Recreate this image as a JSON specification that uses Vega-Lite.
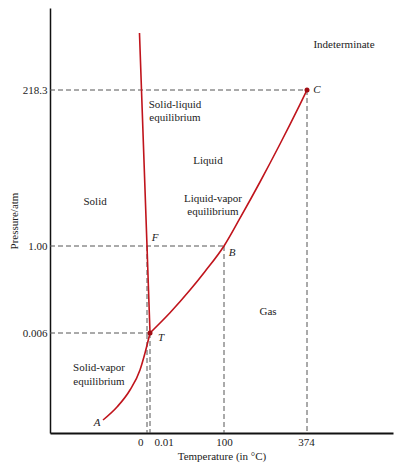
{
  "$schema": "https://vega.github.io/schema/vega-lite/v6.json",
  "width": 343,
  "height": 425,
  "autosize": {"type": "none"},
  "padding": {"left": 50, "top": 8, "right": 2, "bottom": 34},
  "background": "white",
  "config": {
    "view": {"stroke": null},
    "font": "Liberation Serif",
    "text": {"font": "Liberation Serif", "fontSize": 11, "color": "#222"}
  },
  "datasets": {
    "curves": [
      {"curve": "sublimation", "i": 0, "t": -18.14, "p": 0.00078},
      {"curve": "sublimation", "i": 1, "t": -12.37, "p": 0.00156},
      {"curve": "sublimation", "i": 2, "t": -7.01, "p": 0.00258},
      {"curve": "sublimation", "i": 3, "t": -2.89, "p": 0.00378},
      {"curve": "sublimation", "i": 4, "t": -0.82, "p": 0.0048},
      {"curve": "sublimation", "i": 5, "t": 0.01, "p": 0.006},
      {"curve": "vaporization", "i": 0, "t": 0.01, "p": 0.006},
      {"curve": "vaporization", "i": 1, "t": 27.03, "p": 0.2368},
      {"curve": "vaporization", "i": 2, "t": 54.06, "p": 0.4961},
      {"curve": "vaporization", "i": 3, "t": 74.33, "p": 0.7087},
      {"curve": "vaporization", "i": 4, "t": 100, "p": 1},
      {"curve": "vaporization", "i": 5, "t": 152.8, "p": 39.72},
      {"curve": "vaporization", "i": 6, "t": 218.8, "p": 90.15},
      {"curve": "vaporization", "i": 7, "t": 284.9, "p": 143.08},
      {"curve": "vaporization", "i": 8, "t": 350.9, "p": 198.38},
      {"curve": "vaporization", "i": 9, "t": 374, "p": 218.3}
    ],
    "fusion": [
      {"i": 0, "t": -3.1, "p": 275.1},
      {"i": 1, "t": 0, "p": 1},
      {"i": 2, "t": 0.01, "p": 0.006}
    ],
    "guides": [
      {"t": -40, "t2": 374, "p": 218.3, "p2": 218.3},
      {"t": -40, "t2": 100, "p": 1, "p2": 1},
      {"t": -40, "t2": 0.01, "p": 0.006, "p2": 0.006},
      {"t": 0, "t2": 0, "p": 1, "p2": 0},
      {"t": 0.01, "t2": 0.01, "p": 0.006, "p2": 0},
      {"t": 100, "t2": 100, "p": 1, "p2": 0},
      {"t": 374, "t2": 374, "p": 218.3, "p2": 0}
    ],
    "dots": [
      {"t": 374, "p": 218.3},
      {"t": 0.01, "p": 0.006}
    ],
    "regions": [
      {"label": "Indeterminate", "t": 419.6, "p": 263.1},
      {"label": "Solid-liquid", "t": 33.8, "p": 197.4},
      {"label": "equilibrium", "t": 33.8, "p": 179.3},
      {"label": "Liquid", "t": 78.4, "p": 119.4},
      {"label": "Solid", "t": -21.4, "p": 62.3},
      {"label": "Liquid-vapor", "t": 85.1, "p": 66.5},
      {"label": "equilibrium", "t": 85.1, "p": 48.4},
      {"label": "Gas", "t": 245.3, "p": 0.246},
      {"label": "Solid-vapor", "t": -19.8, "p": 0.0039},
      {"label": "equilibrium", "t": -19.8, "p": 0.00306}
    ],
    "points": [
      {"label": "C", "t": 386.3, "p": 218.3},
      {"label": "F", "t": 6.77, "p": 12.1},
      {"label": "B", "t": 126.4, "p": 0.92},
      {"label": "T", "t": 14.87, "p": 0.0057},
      {"label": "A", "t": -20.6, "p": 0.0006}
    ]
  },
  "encoding": {
    "x": {
      "field": "t",
      "type": "quantitative",
      "scale": {"type": "linear", "domain": [-40, 0, 0.01, 100, 374, 480], "range": [0, 97, 100, 174, 257, 343], "zero": false, "nice": false},
      "axis": {
        "title": "Temperature (in °C)",
        "values": [0, 0.01, 100, 374],
        "labelExpr": "datum.value == 0 ? '0' : datum.value == 0.01 ? '0.01' : datum.value == 100 ? '100' : '374'",
        "ticks": false,
        "grid": false,
        "domainColor": "#111",
        "domainWidth": 2,
        "labelFont": "Liberation Serif",
        "labelFontSize": 11,
        "labelColor": "#222",
        "labelPadding": 3,
        "labelAlign": {"condition": [{"test": "datum.value == 0", "value": "right"}, {"test": "datum.value == 0.01", "value": "left"}], "value": "center"},
        "labelOffset": {"condition": [{"test": "datum.value == 0", "value": -4}, {"test": "datum.value == 0.01", "value": 4}, {"test": "datum.value == 374", "value": -1}], "value": 0},
        "titleFont": "Liberation Serif",
        "titleFontSize": 11,
        "titleFontWeight": "normal",
        "titleColor": "#222",
        "titlePadding": 3
      }
    },
    "y": {
      "field": "p",
      "type": "quantitative",
      "scale": {"type": "linear", "domain": [0, 0.006, 1, 218.3, 300], "range": [425, 325, 238, 82, 0], "zero": false, "nice": false},
      "axis": {
        "title": "Pressure/atm",
        "values": [0.006, 1, 218.3],
        "labelExpr": "datum.value == 1 ? '1.00' : datum.value == 0.006 ? '0.006' : '218.3'",
        "ticks": false,
        "grid": false,
        "domainColor": "#111",
        "domainWidth": 1.5,
        "labelFont": "Liberation Serif",
        "labelFontSize": 11,
        "labelColor": "#222",
        "labelPadding": 3,
        "titleFont": "Liberation Serif",
        "titleFontSize": 11,
        "titleFontWeight": "normal",
        "titleColor": "#222",
        "titlePadding": 3
      }
    }
  },
  "layer": [
    {
      "data": {"name": "guides"},
      "mark": {"type": "rule", "color": "#555", "strokeWidth": 1, "strokeDash": [5, 3]},
      "encoding": {"x2": {"field": "t2"}, "y2": {"field": "p2"}}
    },
    {
      "data": {"name": "curves"},
      "mark": {"type": "line", "color": "#c0141c", "strokeWidth": 1.6, "interpolate": "monotone"},
      "encoding": {"detail": {"field": "curve"}, "order": {"field": "i", "type": "quantitative"}}
    },
    {
      "data": {"name": "fusion"},
      "mark": {"type": "line", "color": "#c0141c", "strokeWidth": 1.6},
      "encoding": {"order": {"field": "i", "type": "quantitative"}}
    },
    {
      "data": {"name": "dots"},
      "mark": {"type": "point", "filled": true, "color": "#a00d14", "size": 25, "opacity": 1},
      "encoding": {}
    },
    {
      "data": {"name": "regions"},
      "mark": {"type": "text", "align": "center", "baseline": "middle", "font": "Liberation Serif", "fontSize": 11, "color": "#222"},
      "encoding": {"text": {"field": "label"}}
    },
    {
      "data": {"name": "points"},
      "mark": {"type": "text", "align": "center", "baseline": "middle", "font": "Liberation Serif", "fontSize": 11, "fontStyle": "italic", "color": "#222"},
      "encoding": {"text": {"field": "label"}}
    }
  ]
}
